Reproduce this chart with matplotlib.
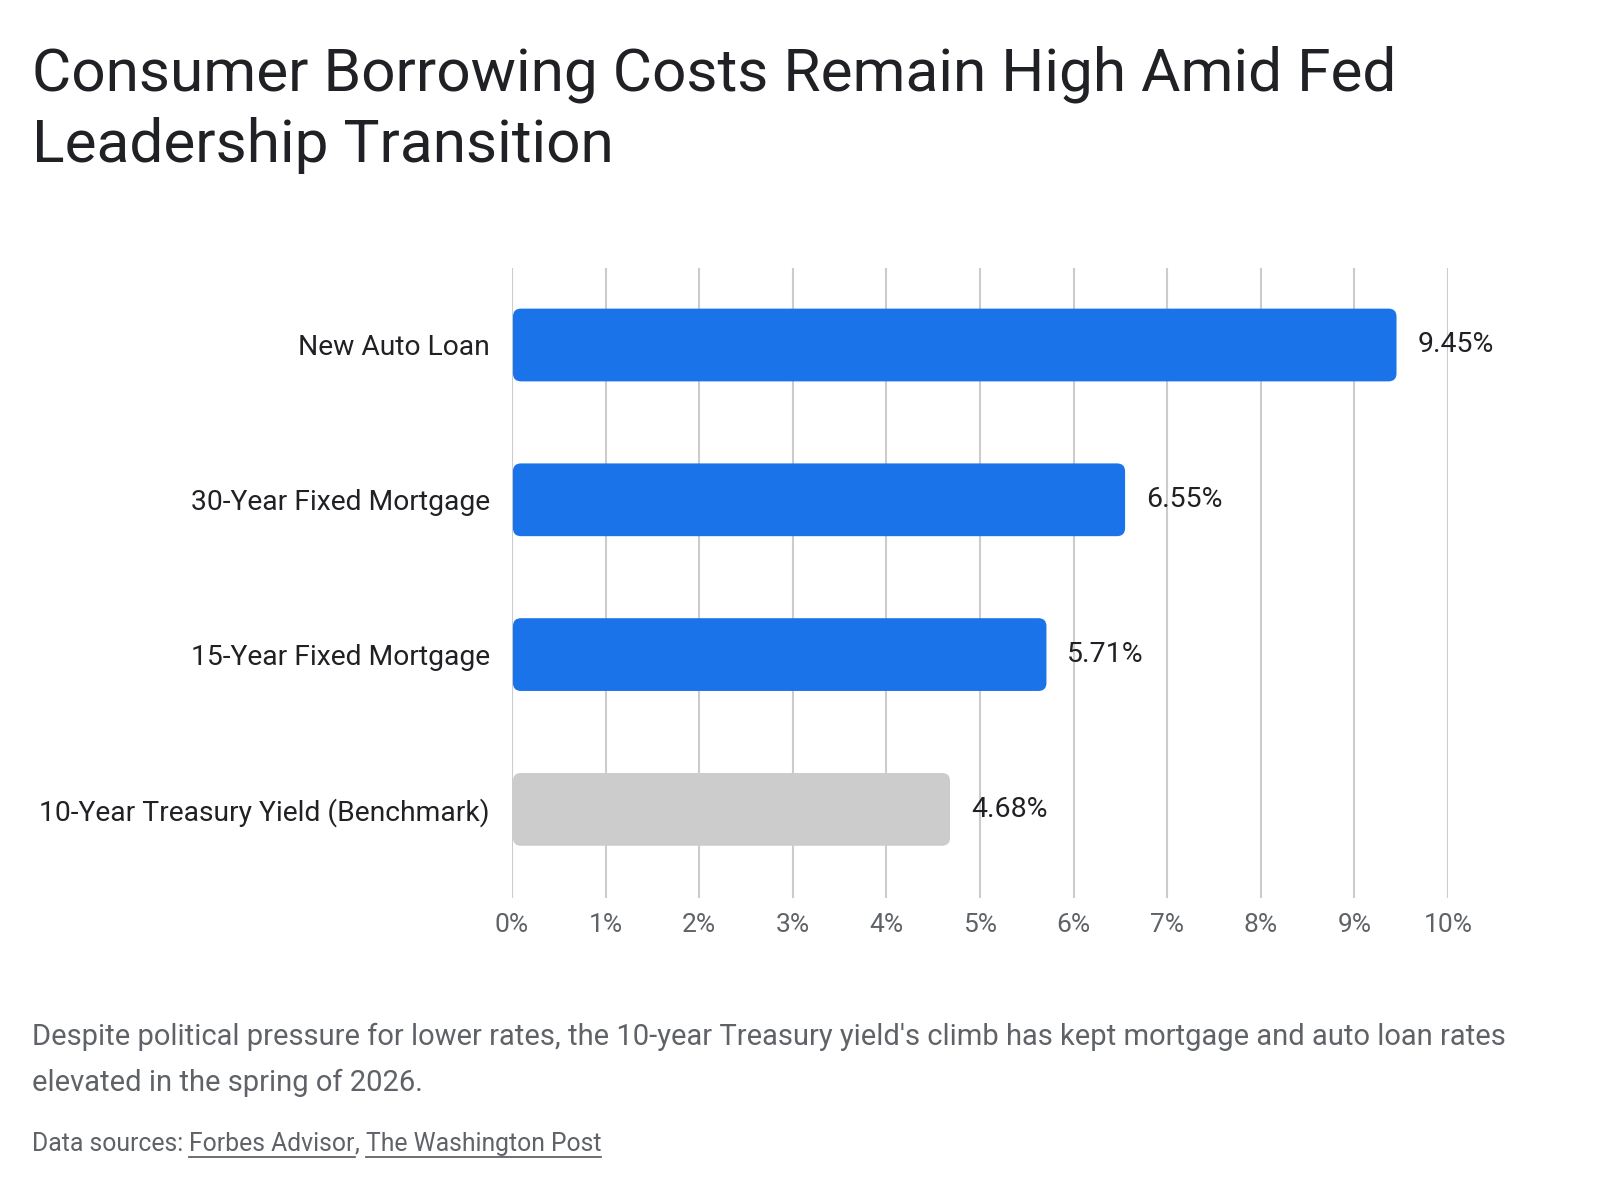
import matplotlib
matplotlib.use("Agg")
import matplotlib.pyplot as plt
from matplotlib.patches import FancyBboxPatch

plt.rcParams['font.family'] = ['Roboto', 'DejaVu Sans']

categories = ["New Auto Loan", "30-Year Fixed Mortgage", "15-Year Fixed Mortgage",
              "10-Year Treasury Yield (Benchmark)"]
rates = [9.45, 6.55, 5.71, 4.68]
colors = ["#1a73e8", "#1a73e8", "#1a73e8", "#cccccc"]
xticks = list(range(0, 11))

title = "Consumer Borrowing Costs Remain High Amid Fed\nLeadership Transition"
subtitle = ("Despite political pressure for lower rates, the 10-year Treasury yield's climb has kept "
            "mortgage and auto loan rates\nelevated in the spring of 2026.")

fig = plt.figure(figsize=(16, 12), dpi=100)
ax = fig.add_axes([0.32, 0.252, 0.585, 0.525])

ax.set_xlim(0, 10)
ax.set_ylim(3.57, -0.5)

# rounded bars, radius in pixels converted to data units
px_x = 10 / (0.585 * 1600)
px_y = 4.07 / (0.525 * 1200)
rad = 8
for i, (v, c) in enumerate(zip(rates, colors)):
    h = 0.47
    p = FancyBboxPatch((0.01, i - h / 2), v - 0.01, h,
                       boxstyle=f"round,pad=0,rounding_size={rad * px_x}",
                       mutation_aspect=px_y / px_x, fc=c, ec="none", zorder=3)
    ax.add_patch(p)
    ax.annotate(f"{v:.2f}%", (v, i), xytext=(15, 0), textcoords="offset points",
                va="center", ha="left", fontsize=20.5, color="#202124", zorder=4)

ax.set_xticks(xticks)
ax.set_xticklabels([f"{t}%" for t in xticks], fontsize=19, color="#5f6368")
ax.set_yticks(range(len(categories)))
ax.set_yticklabels(categories, fontsize=20.3, color="#202124")
ax.tick_params(axis="both", length=0)
ax.tick_params(axis="y", pad=16)
ax.tick_params(axis="x", pad=11)
ax.grid(axis="x", color="#cccccc", linewidth=1.5, zorder=0)
ax.set_axisbelow(True)
for s in ax.spines.values():
    s.set_visible(False)

fig.text(0.02, 0.962, title, fontsize=43.5, color="#202124", va="top", ha="left",
         linespacing=1.3)
fig.text(0.02, 0.148, subtitle, fontsize=21, color="#5f6368", va="top", ha="left",
         linespacing=1.8)

src = fig.text(0.02, 0.047, "Data sources: ", fontsize=17.8, color="#5f6368", va="center", ha="left")
fig.canvas.draw()
r = fig.canvas.get_renderer()
x = src.get_window_extent(r).x1 / fig.bbox.width
for part, link in [("Forbes Advisor", True), (", ", False), ("The Washington Post", True)]:
    t = fig.text(x, 0.047, part, fontsize=17.8, color="#5f6368", va="center", ha="left")
    bb = t.get_window_extent(r)
    if link:
        y = (bb.y0 - 1) / fig.bbox.height
        fig.add_artist(plt.Line2D([x, bb.x1 / fig.bbox.width], [y, y],
                                  color="#5f6368", linewidth=1.3))
    x = bb.x1 / fig.bbox.width

fig.savefig("out.png", dpi=100, facecolor="white")
